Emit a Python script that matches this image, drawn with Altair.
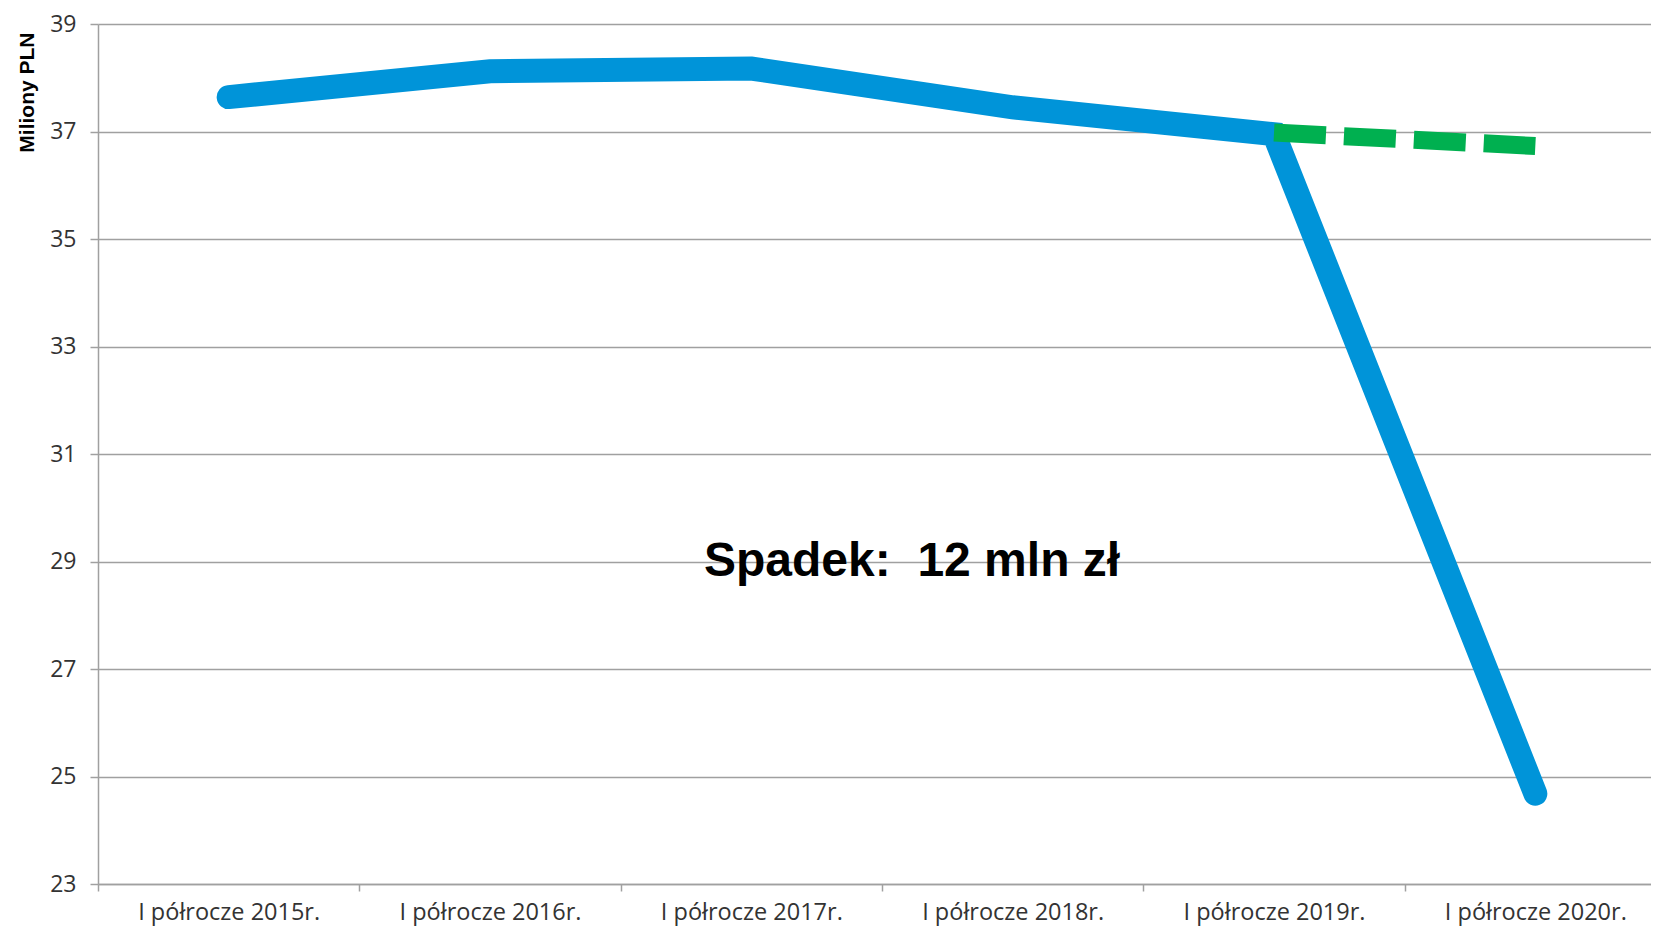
import altair as alt
import pandas as pd

categories = ["I półrocze 2015r.", "I półrocze 2016r.", "I półrocze 2017r.",
              "I półrocze 2018r.", "I półrocze 2019r.", "I półrocze 2020r."]
values = [37.64, 38.12, 38.17, 37.45, 36.95, 24.68]

forecast_categories = ["I półrocze 2019r.", "I półrocze 2020r."]
forecast_values = [36.98, 36.73]

y_ticks = [23, 25, 27, 29, 31, 33, 35, 37, 39]
annotation = "Spadek:\u00a0 12 mln zł"
annotation_y = 29

df = pd.DataFrame({"okres": categories, "wartosc": values})
df_f = pd.DataFrame({"okres": forecast_categories, "wartosc": forecast_values})

x_enc = alt.X(
    "okres:N",
    sort=categories,
    scale=alt.Scale(type="band", domain=categories, paddingInner=0, paddingOuter=0,
                    range=[0, 1568]),
    axis=alt.Axis(
        title=None,
        labelAngle=0,
        labelFont="Open Sans",
        labelFontSize=23.5,
        labelColor="#333333",
        labelPadding=9,
        labelLimit=0,
        tickBand="extent",
        tickSize=7,
        tickColor="#a0a0a0",
        tickWidth=1.5,
        domainColor="#a0a0a0",
        domainWidth=1.5,
        grid=False,
    ),
)

y_scale = alt.Scale(domain=[23, 39], nice=False, zero=False)
y_axis = alt.Axis(
    title="Miliony PLN",
    titleFont="Liberation Sans",
    titleFontSize=21,
    titleFontWeight="bold",
    titleColor="#000000",
    titleAnchor="end",
    titleAlign="right",
    titleY=8,
    titlePadding=12,
    values=y_ticks,
    labelFont="Open Sans",
    labelFontSize=23,
    labelColor="#333333",
    labelPadding=14,
    tickSize=8,
    tickColor="#a0a0a0",
    tickWidth=1.5,
    domainColor="#a0a0a0",
    domainWidth=1.5,
    gridColor="#a0a0a0",
    gridWidth=1.5,
)

blue = alt.Chart(df).mark_line(
    color="#0094d9", strokeWidth=24, strokeCap="round", strokeJoin="miter"
).encode(
    x=x_enc,
    y=alt.Y("wartosc:Q", scale=y_scale, axis=y_axis),
)

green = alt.Chart(df_f).mark_line(
    color="#00b050", strokeWidth=18, strokeCap="butt", strokeDash=[52, 18]
).encode(
    x=alt.X("okres:N", sort=categories),
    y=alt.Y("wartosc:Q"),
)

text = alt.Chart(pd.DataFrame({"t": [annotation]})).mark_text(
    font="Liberation Sans", fontSize=48, fontWeight="bold", color="#000000",
    align="center", baseline="middle"
).encode(
    x=alt.XDatum("I półrocze 2018r.", bandPosition=0.115),
    y=alt.YDatum(annotation_y),
    text="t:N",
)

chart = alt.layer(blue, green, text).properties(
    width=1553,
    height=860,
    autosize=alt.AutoSizeParams(type="none"),
    padding={"left": 90, "top": 16, "right": 0, "bottom": 42},
).configure_view(stroke=None)

chart.save("out.html", embed_options={"renderer": "svg", "actions": False})
